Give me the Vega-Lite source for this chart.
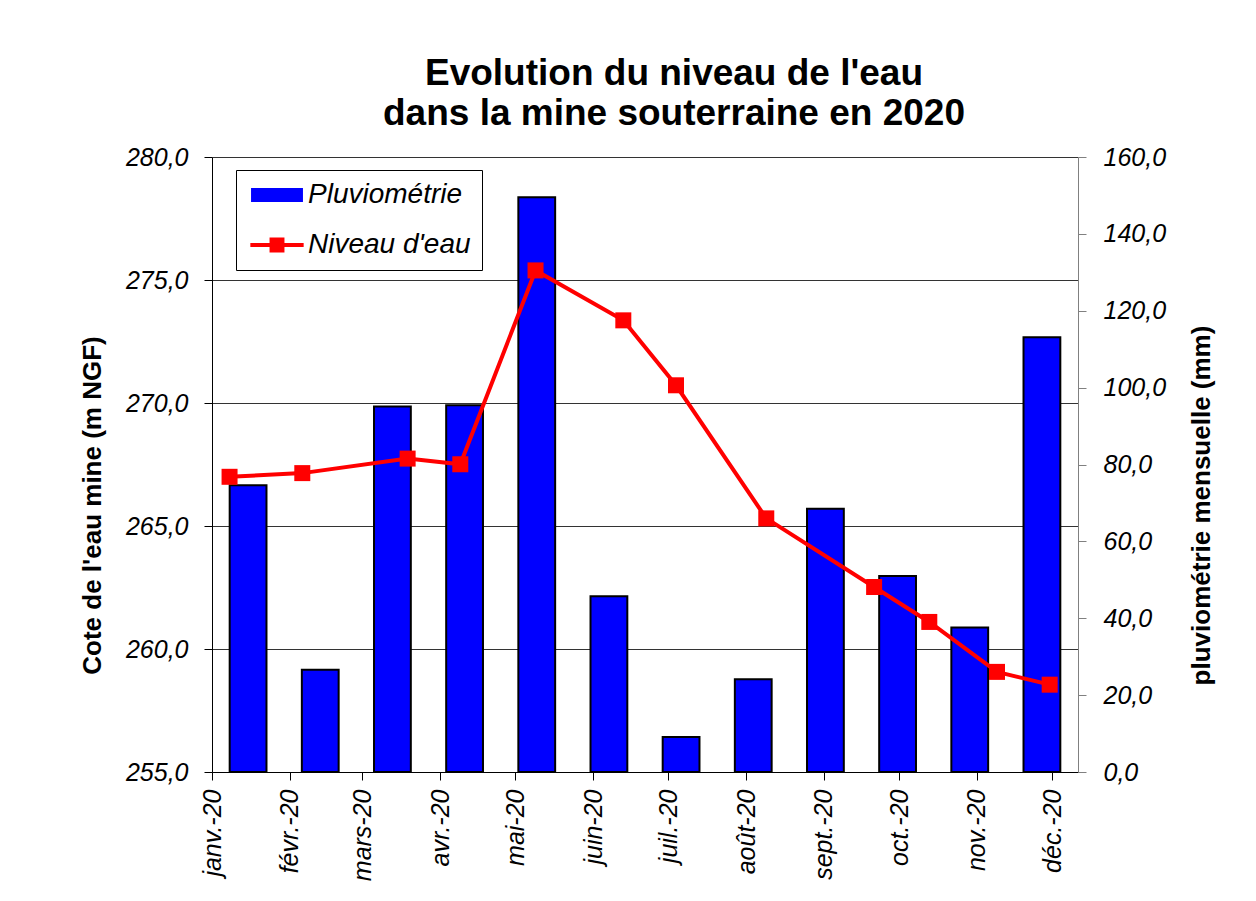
{
  "$schema": "https://vega.github.io/schema/vega-lite/v6.json",
  "width": 866,
  "height": 615,
  "autosize": {"type": "none"},
  "padding": {"left": 212, "top": 157, "right": 178, "bottom": 129},
  "background": "white",
  "title": {
    "text": ["Evolution du niveau de l'eau", "dans la mine souterraine en 2020"],
    "font": "Liberation Sans",
    "fontSize": 37,
    "fontWeight": "bold",
    "color": "black",
    "lineHeight": 40,
    "anchor": "middle",
    "frame": "group",
    "dx": 29,
    "offset": 12
  },
  "data": {
    "values": [
      {"mois": "janv.", "pluvio": 74.6, "date": "2020-01-08", "niveau": 267.0},
      {"mois": "févr.", "pluvio": 26.6, "date": "2020-02-06", "niveau": 267.15},
      {"mois": "mars", "pluvio": 95.1, "date": "2020-03-19", "niveau": 267.74},
      {"mois": "avr.", "pluvio": 95.4, "date": "2020-04-09", "niveau": 267.51},
      {"mois": "mai", "pluvio": 149.5, "date": "2020-05-09", "niveau": 275.39},
      {"mois": "juin", "pluvio": 45.7, "date": "2020-06-13", "niveau": 273.36},
      {"mois": "juil.", "pluvio": 9.1, "date": "2020-07-04", "niveau": 270.72},
      {"mois": "août", "pluvio": 24.1, "date": "2020-08-09", "niveau": 265.31},
      {"mois": "sept.", "pluvio": 68.5, "date": "2020-09-21", "niveau": 262.52},
      {"mois": "oct.", "pluvio": 51.0, "date": "2020-10-13", "niveau": 261.10},
      {"mois": "nov.", "pluvio": 37.6, "date": "2020-11-09", "niveau": 259.07},
      {"mois": "déc.", "pluvio": 113.1, "date": "2020-11-30", "niveau": 258.55}
    ]
  },
  "layer": [
    {
      "mark": {"type": "bar", "stroke": "black", "strokeWidth": 2},
      "encoding": {
        "x": {
          "field": "mois", "type": "nominal", "sort": null,
          "scale": {"paddingInner": 0.49, "paddingOuter": 0.245},
          "axis": null
        },
        "y": {
          "field": "pluvio", "type": "quantitative",
          "scale": {"domain": [0, 160], "nice": false, "zero": true},
          "axis": {
            "orient": "right",
            "values": [0, 20, 40, 60, 80, 100, 120, 140, 160],
            "labelExpr": "replace(format(datum.value, '.1f'), '.', ',')",
            "grid": false,
            "domainColor": "#808080",
            "tickColor": "#808080",
            "tickSize": 8,
            "labelPadding": 17,
            "title": "pluviométrie mensuelle (mm)",
            "titleAngle": -90,
            "titleBaseline": "top",
            "titlePadding": 23,
            "titleY": 348
          }
        },
        "color": {
          "datum": "Pluviométrie",
          "type": "nominal",
          "scale": {"domain": ["Pluviométrie", "Niveau d'eau"], "range": ["#0000ff", "#ff0000"]},
          "legend": {
            "orient": "none",
            "legendX": 24,
            "legendY": 13,
            "title": null,
            "strokeColor": "black",
            "fillColor": "white",
            "padding": 11,
            "symbolSize": 676,
            "symbolOffset": 16,
            "labelOffset": 17,
            "rowPadding": 22,
            "symbolOpacity": 1,
            "symbolType": {"expr": "datum.value === 'Pluviométrie' ? 'M-1.92,-0.46H1.92V0.46H-1.92Z' : 'M-2.05,0H2.05M-0.42,-0.42H0.42V0.42H-0.42Z'"},
            "symbolStrokeColor": {"expr": "datum.value === 'Pluviométrie' ? '#000000' : '#ff0000'"},
            "symbolStrokeWidth": {"expr": "datum.value === 'Pluviométrie' ? 2 : 4"},
            "labelFont": "Liberation Sans",
            "labelFontSize": 28,
            "labelFontStyle": "italic",
            "labelColor": "black",
            "labelLimit": 400
          }
        }
      }
    },
    {
      "mark": {
        "type": "line",
        "strokeWidth": 4,
        "point": {"shape": "square", "size": 256, "filled": true, "opacity": 1}
      },
      "encoding": {
        "x": {
          "field": "date", "type": "temporal",
          "scale": {
            "type": "utc",
            "nice": false,
            "domain": [
              {"year": 2020, "month": 1, "date": 1, "utc": true},
              {"year": 2020, "month": 12, "date": 11, "hours": 7, "utc": true}
            ]
          },
          "axis": {
            "orient": "bottom",
            "values": [
              {"year": 2020, "month": 1, "date": 1, "utc": true},
              {"year": 2020, "month": 2, "date": 1, "utc": true},
              {"year": 2020, "month": 3, "date": 1, "utc": true},
              {"year": 2020, "month": 4, "date": 1, "utc": true},
              {"year": 2020, "month": 5, "date": 1, "utc": true},
              {"year": 2020, "month": 6, "date": 1, "utc": true},
              {"year": 2020, "month": 7, "date": 1, "utc": true},
              {"year": 2020, "month": 8, "date": 1, "utc": true},
              {"year": 2020, "month": 9, "date": 1, "utc": true},
              {"year": 2020, "month": 10, "date": 1, "utc": true},
              {"year": 2020, "month": 11, "date": 1, "utc": true},
              {"year": 2020, "month": 12, "date": 1, "utc": true}
            ],
            "labelExpr": "['janv.','févr.','mars','avr.','mai','juin','juil.','août','sept.','oct.','nov.','déc.'][utcmonth(datum.value)] + '-20'",
            "labelAngle": 270,
            "labelAlign": "right",
            "labelBaseline": "middle",
            "labelPadding": 9,
            "labelFlush": false,
            "labelOverlap": false,
            "tickSize": 8,
            "grid": false,
            "title": null
          }
        },
        "y": {
          "field": "niveau", "type": "quantitative",
          "scale": {"domain": [255, 280], "nice": false, "zero": false},
          "axis": {
            "orient": "left",
            "values": [255, 260, 265, 270, 275, 280],
            "labelExpr": "replace(format(datum.value, '.1f'), '.', ',')",
            "grid": true,
            "gridColor": "#333333",
            "gridWidth": 1,
            "tickSize": 8,
            "labelPadding": 16,
            "title": "Cote de l'eau mine (m NGF)",
            "titlePadding": 20,
            "titleY": 348
          }
        },
        "color": {
          "datum": "Niveau d'eau",
          "type": "nominal",
          "scale": {"domain": ["Pluviométrie", "Niveau d'eau"], "range": ["#0000ff", "#ff0000"]},
          "legend": null
        }
      }
    }
  ],
  "resolve": {
    "scale": {"x": "independent", "y": "independent"},
    "axis": {"x": "independent", "y": "independent"}
  },
  "config": {
    "view": {"stroke": null},
    "font": "Liberation Sans",
    "axis": {
      "labelFont": "Liberation Sans",
      "labelFontSize": 25,
      "labelFontStyle": "italic",
      "labelColor": "black",
      "titleFont": "Liberation Sans",
      "titleFontSize": 26,
      "titleFontWeight": "bold",
      "titleColor": "black",
      "domainColor": "black",
      "domainWidth": 1,
      "tickColor": "black",
      "tickWidth": 1
    }
  }
}
